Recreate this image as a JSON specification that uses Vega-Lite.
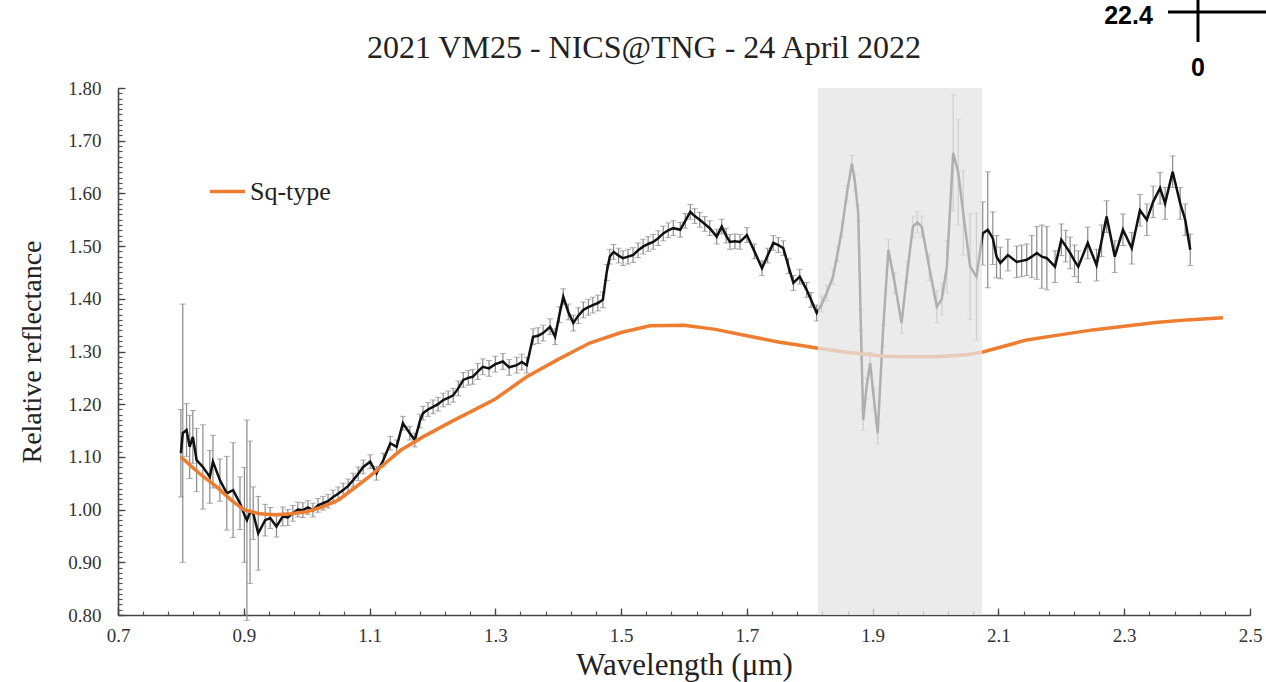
{
  "$schema": "https://vega.github.io/schema/vega-lite/v6.json",
  "width": 1132,
  "height": 527,
  "autosize": {"type": "none"},
  "padding": {"left": 118, "top": 88, "right": 16, "bottom": 67},
  "background": "white",
  "title": {
    "text": "2021 VM25 - NICS@TNG - 24 April 2022",
    "font": "Liberation Serif",
    "fontSize": 32,
    "fontWeight": "normal",
    "color": "#222222",
    "anchor": "middle",
    "dx": -40,
    "baseline": "alphabetic",
    "offset": -92
  },
  "config": {"view": {"stroke": null}},
  "datasets": {
    "spectrum": [
      {"w": 0.800, "r": 1.107, "e": 0.083},
      {"w": 0.803, "r": 1.145, "e": 0.245},
      {"w": 0.809, "r": 1.151, "e": 0.05},
      {"w": 0.814, "r": 1.119, "e": 0.06},
      {"w": 0.819, "r": 1.138, "e": 0.05},
      {"w": 0.825, "r": 1.094, "e": 0.06},
      {"w": 0.835, "r": 1.081, "e": 0.08},
      {"w": 0.846, "r": 1.062, "e": 0.05},
      {"w": 0.851, "r": 1.091, "e": 0.05},
      {"w": 0.862, "r": 1.056, "e": 0.04},
      {"w": 0.873, "r": 1.031, "e": 0.07},
      {"w": 0.883, "r": 1.037, "e": 0.09},
      {"w": 0.894, "r": 1.012, "e": 0.05},
      {"w": 0.901, "r": 0.990, "e": 0.09},
      {"w": 0.905, "r": 0.980, "e": 0.19},
      {"w": 0.910, "r": 0.995, "e": 0.135},
      {"w": 0.915, "r": 0.993, "e": 0.05},
      {"w": 0.923, "r": 0.955, "e": 0.07},
      {"w": 0.934, "r": 0.980, "e": 0.03},
      {"w": 0.942, "r": 0.984, "e": 0.02},
      {"w": 0.952, "r": 0.968, "e": 0.02},
      {"w": 0.962, "r": 0.987, "e": 0.018},
      {"w": 0.970, "r": 0.985, "e": 0.015},
      {"w": 0.978, "r": 0.993, "e": 0.015},
      {"w": 0.986, "r": 1.000, "e": 0.014},
      {"w": 0.994, "r": 0.999, "e": 0.014},
      {"w": 1.002, "r": 1.004, "e": 0.013},
      {"w": 1.010, "r": 0.999, "e": 0.013},
      {"w": 1.018, "r": 1.008, "e": 0.013},
      {"w": 1.026, "r": 1.012, "e": 0.013},
      {"w": 1.034, "r": 1.016, "e": 0.013},
      {"w": 1.042, "r": 1.024, "e": 0.013},
      {"w": 1.050, "r": 1.030, "e": 0.013},
      {"w": 1.058, "r": 1.037, "e": 0.013},
      {"w": 1.066, "r": 1.045, "e": 0.013},
      {"w": 1.074, "r": 1.056, "e": 0.013},
      {"w": 1.082, "r": 1.068, "e": 0.013},
      {"w": 1.090, "r": 1.081, "e": 0.013},
      {"w": 1.101, "r": 1.091, "e": 0.013},
      {"w": 1.111, "r": 1.069, "e": 0.013},
      {"w": 1.122, "r": 1.094, "e": 0.013},
      {"w": 1.133, "r": 1.126, "e": 0.013},
      {"w": 1.143, "r": 1.119, "e": 0.013},
      {"w": 1.153, "r": 1.164, "e": 0.013},
      {"w": 1.164, "r": 1.145, "e": 0.013},
      {"w": 1.172, "r": 1.132, "e": 0.013},
      {"w": 1.180, "r": 1.168, "e": 0.013},
      {"w": 1.185, "r": 1.183, "e": 0.013},
      {"w": 1.193, "r": 1.190, "e": 0.013},
      {"w": 1.201, "r": 1.195, "e": 0.013},
      {"w": 1.209, "r": 1.200, "e": 0.013},
      {"w": 1.217, "r": 1.208, "e": 0.013},
      {"w": 1.225, "r": 1.212, "e": 0.013},
      {"w": 1.233, "r": 1.217, "e": 0.013},
      {"w": 1.241, "r": 1.230, "e": 0.014},
      {"w": 1.249, "r": 1.246, "e": 0.014},
      {"w": 1.257, "r": 1.250, "e": 0.014},
      {"w": 1.264, "r": 1.252, "e": 0.014},
      {"w": 1.272, "r": 1.262, "e": 0.015},
      {"w": 1.280, "r": 1.271, "e": 0.015},
      {"w": 1.290, "r": 1.268, "e": 0.015},
      {"w": 1.300, "r": 1.276, "e": 0.015},
      {"w": 1.312, "r": 1.281, "e": 0.015},
      {"w": 1.322, "r": 1.270, "e": 0.015},
      {"w": 1.334, "r": 1.274, "e": 0.015},
      {"w": 1.342, "r": 1.280, "e": 0.015},
      {"w": 1.350, "r": 1.274, "e": 0.015},
      {"w": 1.360, "r": 1.328, "e": 0.015},
      {"w": 1.368, "r": 1.330, "e": 0.015},
      {"w": 1.376, "r": 1.335, "e": 0.015},
      {"w": 1.387, "r": 1.347, "e": 0.015},
      {"w": 1.395, "r": 1.328, "e": 0.015},
      {"w": 1.402, "r": 1.370, "e": 0.015},
      {"w": 1.408, "r": 1.404, "e": 0.015},
      {"w": 1.416, "r": 1.375, "e": 0.015},
      {"w": 1.424, "r": 1.354, "e": 0.015},
      {"w": 1.432, "r": 1.368, "e": 0.015},
      {"w": 1.440, "r": 1.379, "e": 0.015},
      {"w": 1.448, "r": 1.384, "e": 0.015},
      {"w": 1.455, "r": 1.388, "e": 0.015},
      {"w": 1.463, "r": 1.392, "e": 0.015},
      {"w": 1.471, "r": 1.398, "e": 0.015},
      {"w": 1.477, "r": 1.450, "e": 0.015},
      {"w": 1.482, "r": 1.480, "e": 0.014},
      {"w": 1.488, "r": 1.489, "e": 0.014},
      {"w": 1.496, "r": 1.482, "e": 0.014},
      {"w": 1.503, "r": 1.477, "e": 0.014},
      {"w": 1.511, "r": 1.480, "e": 0.014},
      {"w": 1.519, "r": 1.483, "e": 0.014},
      {"w": 1.527, "r": 1.492, "e": 0.014},
      {"w": 1.535, "r": 1.499, "e": 0.014},
      {"w": 1.543, "r": 1.504, "e": 0.014},
      {"w": 1.551, "r": 1.508, "e": 0.014},
      {"w": 1.559, "r": 1.515, "e": 0.014},
      {"w": 1.567, "r": 1.524, "e": 0.014},
      {"w": 1.575, "r": 1.530, "e": 0.014},
      {"w": 1.583, "r": 1.534, "e": 0.014},
      {"w": 1.594, "r": 1.531, "e": 0.014},
      {"w": 1.602, "r": 1.548, "e": 0.014},
      {"w": 1.610, "r": 1.565, "e": 0.014},
      {"w": 1.617, "r": 1.557, "e": 0.014},
      {"w": 1.625, "r": 1.550, "e": 0.014},
      {"w": 1.633, "r": 1.542, "e": 0.014},
      {"w": 1.641, "r": 1.534, "e": 0.014},
      {"w": 1.652, "r": 1.518, "e": 0.014},
      {"w": 1.660, "r": 1.537, "e": 0.014},
      {"w": 1.667, "r": 1.520, "e": 0.014},
      {"w": 1.673, "r": 1.508, "e": 0.014},
      {"w": 1.681, "r": 1.509, "e": 0.014},
      {"w": 1.689, "r": 1.508, "e": 0.014},
      {"w": 1.700, "r": 1.521, "e": 0.014},
      {"w": 1.712, "r": 1.490, "e": 0.014},
      {"w": 1.724, "r": 1.458, "e": 0.014},
      {"w": 1.733, "r": 1.482, "e": 0.014},
      {"w": 1.742, "r": 1.506, "e": 0.014},
      {"w": 1.750, "r": 1.502, "e": 0.014},
      {"w": 1.758, "r": 1.496, "e": 0.014},
      {"w": 1.766, "r": 1.462, "e": 0.014},
      {"w": 1.774, "r": 1.430, "e": 0.014},
      {"w": 1.784, "r": 1.442, "e": 0.014},
      {"w": 1.795, "r": 1.417, "e": 0.014},
      {"w": 1.802, "r": 1.398, "e": 0.014},
      {"w": 1.811, "r": 1.373, "e": 0.015},
      {"w": 1.819, "r": 1.390, "e": 0.015},
      {"w": 1.827, "r": 1.411, "e": 0.015},
      {"w": 1.837, "r": 1.442, "e": 0.015},
      {"w": 1.844, "r": 1.485, "e": 0.015},
      {"w": 1.851, "r": 1.531, "e": 0.015},
      {"w": 1.859, "r": 1.600, "e": 0.015},
      {"w": 1.867, "r": 1.657, "e": 0.015},
      {"w": 1.872, "r": 1.620, "e": 0.015},
      {"w": 1.877, "r": 1.563, "e": 0.015},
      {"w": 1.881, "r": 1.360, "e": 0.02},
      {"w": 1.885, "r": 1.170, "e": 0.02},
      {"w": 1.890, "r": 1.230, "e": 0.02},
      {"w": 1.896, "r": 1.278, "e": 0.02},
      {"w": 1.902, "r": 1.210, "e": 0.02},
      {"w": 1.908, "r": 1.145, "e": 0.02},
      {"w": 1.916, "r": 1.330, "e": 0.02},
      {"w": 1.925, "r": 1.493, "e": 0.02},
      {"w": 1.935, "r": 1.430, "e": 0.02},
      {"w": 1.946, "r": 1.354, "e": 0.02},
      {"w": 1.955, "r": 1.450, "e": 0.02},
      {"w": 1.964, "r": 1.537, "e": 0.02},
      {"w": 1.971, "r": 1.545, "e": 0.02},
      {"w": 1.978, "r": 1.537, "e": 0.02},
      {"w": 1.990, "r": 1.460, "e": 0.025},
      {"w": 2.002, "r": 1.385, "e": 0.03},
      {"w": 2.010, "r": 1.400, "e": 0.03},
      {"w": 2.018, "r": 1.461, "e": 0.05},
      {"w": 2.028, "r": 1.677, "e": 0.11},
      {"w": 2.036, "r": 1.640, "e": 0.10},
      {"w": 2.044, "r": 1.563, "e": 0.08},
      {"w": 2.055, "r": 1.461, "e": 0.10},
      {"w": 2.065, "r": 1.442, "e": 0.12},
      {"w": 2.075, "r": 1.524, "e": 0.06},
      {"w": 2.083, "r": 1.531, "e": 0.11},
      {"w": 2.091, "r": 1.515, "e": 0.05},
      {"w": 2.097, "r": 1.480, "e": 0.04},
      {"w": 2.103, "r": 1.468, "e": 0.03},
      {"w": 2.115, "r": 1.483, "e": 0.03},
      {"w": 2.129, "r": 1.470, "e": 0.03},
      {"w": 2.137, "r": 1.472, "e": 0.03},
      {"w": 2.145, "r": 1.474, "e": 0.03},
      {"w": 2.153, "r": 1.480, "e": 0.04},
      {"w": 2.161, "r": 1.487, "e": 0.05},
      {"w": 2.169, "r": 1.480, "e": 0.06},
      {"w": 2.177, "r": 1.477, "e": 0.06},
      {"w": 2.190, "r": 1.461, "e": 0.03},
      {"w": 2.200, "r": 1.512, "e": 0.03},
      {"w": 2.207, "r": 1.500, "e": 0.03},
      {"w": 2.214, "r": 1.487, "e": 0.03},
      {"w": 2.221, "r": 1.472, "e": 0.03},
      {"w": 2.227, "r": 1.461, "e": 0.03},
      {"w": 2.242, "r": 1.506, "e": 0.03},
      {"w": 2.256, "r": 1.464, "e": 0.03},
      {"w": 2.264, "r": 1.510, "e": 0.03},
      {"w": 2.272, "r": 1.556, "e": 0.03},
      {"w": 2.285, "r": 1.480, "e": 0.03},
      {"w": 2.298, "r": 1.531, "e": 0.03},
      {"w": 2.312, "r": 1.496, "e": 0.03},
      {"w": 2.325, "r": 1.568, "e": 0.03},
      {"w": 2.336, "r": 1.550, "e": 0.03},
      {"w": 2.346, "r": 1.584, "e": 0.03},
      {"w": 2.357, "r": 1.610, "e": 0.03},
      {"w": 2.365, "r": 1.581, "e": 0.03},
      {"w": 2.377, "r": 1.641, "e": 0.03},
      {"w": 2.389, "r": 1.581, "e": 0.03},
      {"w": 2.397, "r": 1.550, "e": 0.03},
      {"w": 2.405, "r": 1.493, "e": 0.03}
    ],
    "model": [
      {"w": 0.800, "r": 1.100},
      {"w": 0.830, "r": 1.068},
      {"w": 0.857, "r": 1.043},
      {"w": 0.880, "r": 1.018},
      {"w": 0.900, "r": 1.000},
      {"w": 0.925, "r": 0.992},
      {"w": 0.950, "r": 0.990},
      {"w": 0.975, "r": 0.992},
      {"w": 1.000, "r": 0.996},
      {"w": 1.025, "r": 1.005},
      {"w": 1.050, "r": 1.018},
      {"w": 1.075, "r": 1.040},
      {"w": 1.100, "r": 1.063},
      {"w": 1.125, "r": 1.088},
      {"w": 1.150, "r": 1.113},
      {"w": 1.185, "r": 1.138},
      {"w": 1.230, "r": 1.167},
      {"w": 1.276, "r": 1.195},
      {"w": 1.300, "r": 1.210},
      {"w": 1.350, "r": 1.252},
      {"w": 1.400, "r": 1.285},
      {"w": 1.450, "r": 1.316},
      {"w": 1.500, "r": 1.336},
      {"w": 1.546, "r": 1.349},
      {"w": 1.600, "r": 1.350},
      {"w": 1.650, "r": 1.342},
      {"w": 1.700, "r": 1.330},
      {"w": 1.750, "r": 1.318},
      {"w": 1.784, "r": 1.312},
      {"w": 1.813, "r": 1.306},
      {"w": 1.850, "r": 1.300},
      {"w": 1.917, "r": 1.291},
      {"w": 1.950, "r": 1.290},
      {"w": 2.000, "r": 1.290},
      {"w": 2.050, "r": 1.294},
      {"w": 2.075, "r": 1.299},
      {"w": 2.100, "r": 1.307},
      {"w": 2.145, "r": 1.322},
      {"w": 2.200, "r": 1.332},
      {"w": 2.250, "r": 1.341},
      {"w": 2.300, "r": 1.348},
      {"w": 2.350, "r": 1.355},
      {"w": 2.400, "r": 1.360},
      {"w": 2.457, "r": 1.364}
    ],
    "band": [{"w": 1.813, "w2": 2.074, "lo": 0.8, "hi": 1.8}],
    "cross": [
      {"x": 2.3696, "x2": 2.5254, "y": 1.9442, "y2": 1.9442},
      {"x": 2.4173, "x2": 2.4173, "y": 1.967, "y2": 1.8873}
    ],
    "marker": [
      {"x": 2.3068, "y": 1.9375, "label": "22.4"},
      {"x": 2.4173, "y": 1.838, "label": "0"}
    ]
  },
  "resolve": {"axis": {"x": "independent", "y": "independent"}},
  "layer": [
    {
      "data": {"name": "spectrum"},
      "mark": {
        "type": "errorbar",
        "ticks": {"size": 6, "color": "#8a8a8a", "thickness": 1},
        "rule": {"color": "#8a8a8a", "strokeWidth": 1.2}
      },
      "encoding": {
        "x": {"field": "w", "type": "quantitative", "scale": {"domain": [0.7, 2.5], "nice": false, "zero": false}, "axis": null},
        "y": {"field": "r", "type": "quantitative", "scale": {"domain": [0.8, 1.8], "nice": false, "zero": false}, "axis": null},
        "yError": {"field": "e"}
      }
    },
    {
      "data": {"name": "spectrum"},
      "mark": {"type": "line", "color": "#111111", "strokeWidth": 2.5},
      "encoding": {
        "x": {"field": "w", "type": "quantitative", "scale": {"domain": [0.7, 2.5], "nice": false, "zero": false},
          "axis": {"orient": "bottom", "values": [0.7,0.74,0.78,0.82,0.86,0.9,0.94,0.98,1.02,1.06,1.1,1.14,1.18,1.22,1.26,1.3,1.34,1.38,1.42,1.46,1.5,1.54,1.58,1.62,1.66,1.7,1.74,1.78,1.82,1.86,1.9,1.94,1.98,2.02,2.06,2.1,2.14,2.18,2.22,2.26,2.3,2.34,2.38,2.42,2.46,2.5],
            "labels": false, "domain": false, "grid": false, "title": null, "tickSize": -4, "tickColor": "#555555", "tickWidth": 1.2}},
        "y": {"field": "r", "type": "quantitative", "scale": {"domain": [0.8, 1.8], "nice": false, "zero": false},
          "axis": {"orient": "left", "values": [0.8,0.81,0.82,0.83,0.84,0.85,0.86,0.87,0.88,0.89,0.9,0.91,0.92,0.93,0.94,0.95,0.96,0.97,0.98,0.99,1.0,1.01,1.02,1.03,1.04,1.05,1.06,1.07,1.08,1.09,1.1,1.11,1.12,1.13,1.14,1.15,1.16,1.17,1.18,1.19,1.2,1.21,1.22,1.23,1.24,1.25,1.26,1.27,1.28,1.29,1.3,1.31,1.32,1.33,1.34,1.35,1.36,1.37,1.38,1.39,1.4,1.41,1.42,1.43,1.44,1.45,1.46,1.47,1.48,1.49,1.5,1.51,1.52,1.53,1.54,1.55,1.56,1.57,1.58,1.59,1.6,1.61,1.62,1.63,1.64,1.65,1.66,1.67,1.68,1.69,1.7,1.71,1.72,1.73,1.74,1.75,1.76,1.77,1.78,1.79,1.8],
            "labels": false, "domain": false, "grid": false, "title": null, "tickSize": -4, "tickColor": "#555555", "tickWidth": 1.2}}
      }
    },
    {
      "data": {"name": "model"},
      "mark": {"type": "line", "strokeWidth": 3.5},
      "encoding": {
        "x": {"field": "w", "type": "quantitative", "scale": {"domain": [0.7, 2.5], "nice": false, "zero": false},
          "axis": {"orient": "bottom", "values": [0.7,0.9,1.1,1.3,1.5,1.7,1.9,2.1,2.3,2.5], "format": ".1f", "grid": false,
            "title": "Wavelength (μm)", "titleFont": "Liberation Serif", "titleFontSize": 31, "titleFontWeight": "normal", "titleColor": "#222222", "titlePadding": 5,
            "labelFont": "Liberation Serif", "labelFontSize": 19, "labelColor": "#333333", "labelPadding": 18, "labelFlush": false, "labelOverlap": false,
            "tickSize": -7, "tickColor": "#444444", "tickWidth": 1.3, "domainColor": "#444444", "domainWidth": 1.6}},
        "y": {"field": "r", "type": "quantitative", "scale": {"domain": [0.8, 1.8], "nice": false, "zero": false},
          "axis": {"orient": "left", "values": [0.8,0.9,1.0,1.1,1.2,1.3,1.4,1.5,1.6,1.7,1.8], "format": ".2f", "grid": false,
            "title": "Relative reflectance", "titleFont": "Liberation Serif", "titleFontSize": 28, "titleFontWeight": "normal", "titleColor": "#222222", "titlePadding": 21,
            "labelFont": "Liberation Serif", "labelFontSize": 19, "labelColor": "#333333", "labelPadding": 24, "labelFlush": false, "labelOverlap": false,
            "tickSize": -7, "tickColor": "#444444", "tickWidth": 1.3, "domainColor": "#444444", "domainWidth": 1.6}},
        "color": {
          "datum": "Sq-type",
          "type": "nominal",
          "scale": {"domain": ["Sq-type"], "range": ["#ED7D31"]},
          "legend": {
            "orient": "none", "legendX": 90, "legendY": 84, "title": null, "padding": 0,
            "symbolType": "stroke", "symbolSize": 1225, "symbolStrokeWidth": 3.5,
            "labelFont": "Liberation Serif", "labelFontSize": 26, "labelColor": "#222222", "labelOffset": 3
          }
        }
      }
    },
    {
      "data": {"name": "band"},
      "mark": {"type": "rect", "color": "#e4e4e4", "opacity": 0.75},
      "encoding": {
        "x": {"field": "w", "type": "quantitative", "scale": {"domain": [0.7, 2.5], "nice": false, "zero": false}, "axis": null},
        "x2": {"field": "w2"},
        "y": {"field": "lo", "type": "quantitative", "scale": {"domain": [0.8, 1.8], "nice": false, "zero": false}, "axis": null},
        "y2": {"field": "hi"}
      }
    },
    {
      "data": {"name": "cross"},
      "mark": {"type": "rule", "color": "#000000", "strokeWidth": 3},
      "encoding": {
        "x": {"field": "x", "type": "quantitative", "scale": {"domain": [0.7, 2.5], "nice": false, "zero": false}, "axis": null},
        "x2": {"field": "x2"},
        "y": {"field": "y", "type": "quantitative", "scale": {"domain": [0.8, 1.8], "nice": false, "zero": false}, "axis": null},
        "y2": {"field": "y2"}
      }
    },
    {
      "data": {"name": "marker"},
      "mark": {"type": "text", "font": "Liberation Sans", "fontWeight": "bold", "fontSize": 25, "color": "#000000", "align": "center", "baseline": "middle"},
      "encoding": {
        "x": {"field": "x", "type": "quantitative", "scale": {"domain": [0.7, 2.5], "nice": false, "zero": false}, "axis": null},
        "y": {"field": "y", "type": "quantitative", "scale": {"domain": [0.8, 1.8], "nice": false, "zero": false}, "axis": null},
        "text": {"field": "label"}
      }
    }
  ]
}
